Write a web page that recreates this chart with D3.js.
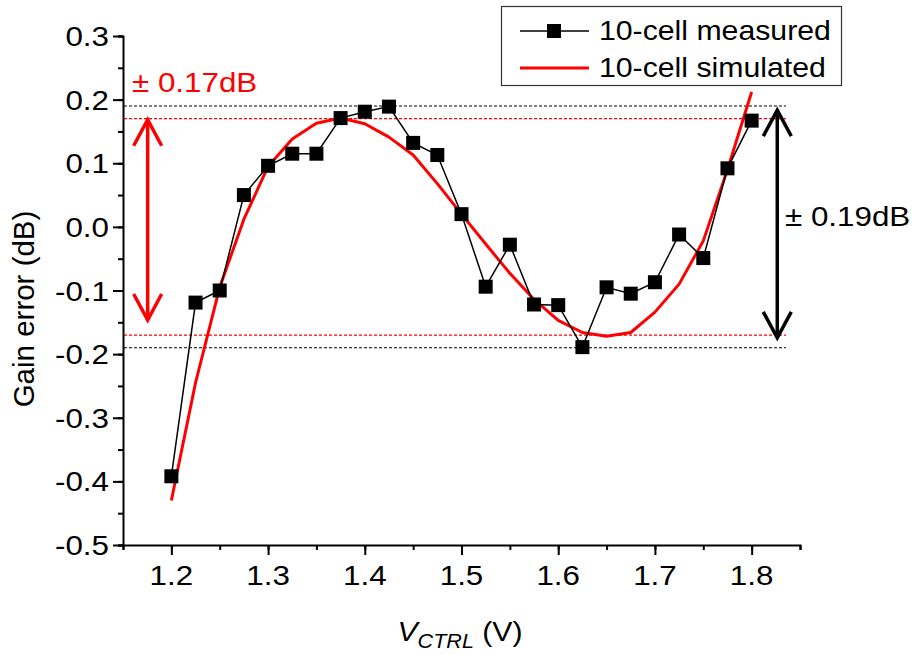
<!DOCTYPE html>
<html>
<head>
<meta charset="utf-8">
<script src="https://cdn.jsdelivr.net/npm/d3@7/dist/d3.min.js"></script>
<style>
  html, body { margin: 0; padding: 0; background: #fff; }
  svg { display: block; font-family: "Liberation Sans", Arial, Helvetica, sans-serif; }
</style>
</head>
<body>
<svg id="chart" width="912" height="655"></svg>
<script>
// Control voltage sweep (V)
const vctrl = [1.200, 1.225, 1.250, 1.275, 1.300, 1.325, 1.350, 1.375, 1.400, 1.425,
               1.450, 1.475, 1.500, 1.525, 1.550, 1.575, 1.600, 1.625, 1.650, 1.675,
               1.700, 1.725, 1.750, 1.775, 1.800];
// Measured gain error, 10-cell (dB)
const measured = [-0.392, -0.119, -0.100, 0.050, 0.096, 0.115, 0.115, 0.171, 0.181, 0.189,
                  0.132, 0.113, 0.020, -0.094, -0.028, -0.122, -0.123, -0.189, -0.095, -0.105,
                  -0.087, -0.012, -0.049, 0.092, 0.167];
// Simulated gain error, 10-cell (dB)
const simulated = [-0.430, -0.245, -0.095, 0.012, 0.095, 0.138, 0.163, 0.171, 0.162, 0.141,
                   0.113, 0.068, 0.020, -0.027, -0.073, -0.114, -0.147, -0.166, -0.172, -0.166,
                   -0.134, -0.090, -0.022, 0.090, 0.212];

const xTicks = [1.2, 1.3, 1.4, 1.5, 1.6, 1.7, 1.8];
const yTicks = [-0.5, -0.4, -0.3, -0.2, -0.1, 0.0, 0.1, 0.2, 0.3];
const seriesNames = ["10-cell measured", "10-cell simulated"];

// Error bounds and the spans they mark
const simBound = 0.17;
const measBound = 0.19;
const simArrow = { x: 1.1755, from: 0.170, to: -0.148, label: "\u00B1 0.17dB" };
const measArrow = { x: 1.8265, from: 0.185, to: -0.176, label: "\u00B1 0.19dB" };

const RED = "#ff0000";
const FONT = 28;
const SX = 1.12;

const svg = d3.select("#chart");
const plotLeft = 123, plotRight = 800, plotTop = 36, plotBottom = 545;

const x = d3.scaleLinear().domain([1.15, 1.85]).range([plotLeft, plotRight]);
const y = d3.scaleLinear().domain([-0.5, 0.3]).range([plotBottom, plotTop]);

// one decimal, plain hyphen for negatives
const fmt = v => d3.format(".1f")(v).replace("\u2212", "-");

// horizontally widened text helper
function label(g, tx, ty, str, anchor, sx, opts = {}) {
  return g.append("text")
    .attr("transform", `translate(${tx},${ty}) scale(${sx},1)`)
    .attr("text-anchor", anchor)
    .attr("font-size", opts.size || FONT)
    .attr("fill", opts.fill || "#000")
    .text(str);
}

// Axes
const axisG = svg.append("g");
const minorX = d3.range(1.15, 1.851, 0.05).map(v => +v.toFixed(3));
const minorY = d3.range(-0.5, 0.301, 0.05).map(v => +v.toFixed(3));

const xAxis = axisG.append("g").attr("transform", `translate(0,${plotBottom})`);
xAxis.call(d3.axisBottom(x).tickValues(minorX).tickSize(5).tickFormat(""));
xAxis.append("g").attr("class", "major").call(d3.axisBottom(x).tickValues(xTicks).tickSize(10).tickFormat(""));
const yAxis = axisG.append("g").attr("transform", `translate(${plotLeft},0)`);
yAxis.call(d3.axisLeft(y).tickValues(minorY).tickSize(5).tickFormat(""));
yAxis.append("g").attr("class", "major").call(d3.axisLeft(y).tickValues(yTicks).tickSize(10).tickFormat(""));
axisG.selectAll(".major .domain").remove();
axisG.selectAll(".domain").attr("stroke", "#000").attr("stroke-width", 2);
axisG.selectAll(".tick line").attr("stroke", "#000").attr("stroke-width", 2);

// Tick labels
xTicks.forEach(v => label(svg, x(v), plotBottom + 40, fmt(v), "middle", SX));
yTicks.forEach(v => label(svg, plotLeft - 14, y(v) + 10, fmt(v), "end", SX));

// Axis titles
svg.append("text")
  .attr("transform", `translate(34,309) rotate(-90)`)
  .attr("text-anchor", "middle")
  .attr("font-size", 29.5)
  .text("Gain error (dB)");

const xt = svg.append("text")
  .attr("transform", `translate(460,641) scale(1.08,1)`)
  .attr("text-anchor", "middle")
  .attr("font-size", FONT);
xt.append("tspan").attr("font-style", "italic").text("V");
xt.append("tspan").attr("font-style", "italic").attr("font-size", 20).attr("dy", 7).text("CTRL");
xt.append("tspan").attr("dy", -7).text(" (V)");

// Bound lines
const bounds = [
  { v: measBound, c: "#000" }, { v: -measBound, c: "#000" },
  { v: simBound, c: RED }, { v: -simBound, c: RED }
];
svg.append("g").selectAll("line").data(bounds).join("line")
  .attr("x1", plotLeft + 1).attr("x2", 786)
  .attr("y1", d => y(d.v)).attr("y2", d => y(d.v))
  .attr("stroke", d => d.c).attr("stroke-width", 1.2)
  .attr("stroke-dasharray", "3,2");

// Simulated curve
const line = d3.line().x(d => x(d[0])).y(d => y(d[1]));
svg.append("path")
  .datum(vctrl.map((v, i) => [v, simulated[i]]))
  .attr("d", line)
  .attr("fill", "none").attr("stroke", RED).attr("stroke-width", 3)
  .attr("stroke-linejoin", "round");

// Measured series
const measPts = vctrl.map((v, i) => [v, measured[i]]);
svg.append("path")
  .datum(measPts)
  .attr("d", line)
  .attr("fill", "none").attr("stroke", "#000").attr("stroke-width", 1.5);
const MS = 14;
svg.append("g").selectAll("rect").data(measPts).join("rect")
  .attr("x", d => x(d[0]) - MS / 2).attr("y", d => y(d[1]) - MS / 2)
  .attr("width", MS).attr("height", MS).attr("fill", "#000");

// Double-headed span arrows
function spanArrow(a, color) {
  const g = svg.append("g").attr("stroke", color).attr("stroke-width", 3.5)
    .attr("fill", "none").attr("stroke-linecap", "butt");
  const ax = x(a.x), y1 = y(a.from), y2 = y(a.to);
  g.append("line").attr("x1", ax).attr("x2", ax).attr("y1", y1 + 2).attr("y2", y2 - 2);
  g.append("path").attr("d", `M${ax - 14},${y1 + 27}L${ax},${y1 + 1}L${ax + 14},${y1 + 27}`);
  g.append("path").attr("d", `M${ax - 14},${y2 - 27}L${ax},${y2 - 1}L${ax + 14},${y2 - 27}`);
}
spanArrow(simArrow, RED);
spanArrow(measArrow, "#000");

label(svg, 132, 92, simArrow.label, "start", SX, { fill: RED });
label(svg, 785, 226, measArrow.label, "start", SX);

// Legend
const lg = svg.append("g");
lg.append("rect").attr("x", 501.5).attr("y", 6.5).attr("width", 340).attr("height", 79)
  .attr("fill", "#fff").attr("stroke", "#333").attr("stroke-width", 1.2);
lg.append("line").attr("x1", 520).attr("x2", 589).attr("y1", 31).attr("y2", 31)
  .attr("stroke", "#000").attr("stroke-width", 1.5);
lg.append("rect").attr("x", 554 - MS / 2).attr("y", 31 - MS / 2).attr("width", MS).attr("height", MS)
  .attr("fill", "#000");
lg.append("line").attr("x1", 520).attr("x2", 589).attr("y1", 68).attr("y2", 68)
  .attr("stroke", RED).attr("stroke-width", 3);
label(lg, 599, 40, seriesNames[0], "start", 1.08);
label(lg, 599, 77, seriesNames[1], "start", 1.08);
</script>
</body>
</html>
